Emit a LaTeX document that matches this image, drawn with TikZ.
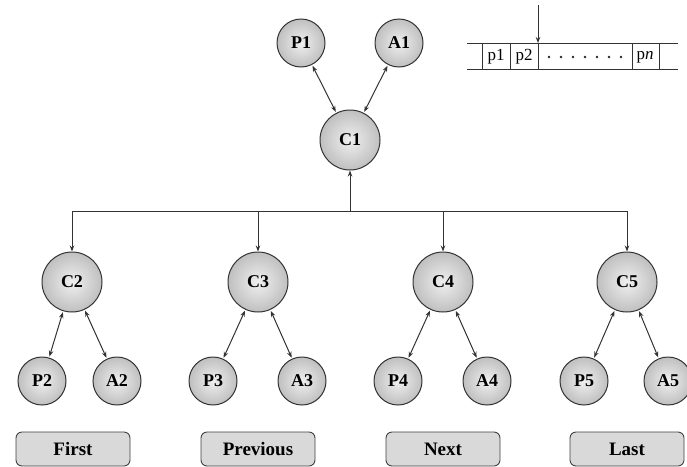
\documentclass[tikz,border=0pt]{standalone}
\usepackage{fontspec}
\setmainfont{Liberation Serif}
\usetikzlibrary{arrows.meta,calc}
\begin{document}
\begin{tikzpicture}[x=1pt,y=-1pt,
  ball/.style={circle,draw=black!80,line width=1pt,inner sep=0pt,
    inner color=gray!12,outer color=gray!50,
    font=\fontsize{18}{20}\selectfont\bfseries},
  bigball/.style={ball,minimum size=60pt},
  smallball/.style={ball,minimum size=48pt},
  link/.style={draw=black!80,line width=1pt,{Stealth[length=6pt,width=4.5pt]}-{Stealth[length=6pt,width=4.5pt]},shorten <=1pt,shorten >=1pt},
  down/.style={draw=black!80,line width=1pt,-{Stealth[length=6pt,width=4.5pt]}},
  button/.style={draw=black!75,line width=0.9pt,rounded corners=6pt,fill=gray!30,
    minimum width=114pt,minimum height=34pt,inner sep=0pt,
    font=\fontsize{19}{21}\selectfont\bfseries},
  cell/.style={inner sep=0pt,font=\fontsize{17}{19}\selectfont},
  dot/.style={circle,fill=black!85,inner sep=0pt,minimum size=2.8pt}
]
\useasboundingbox (0,0) rectangle (687,466);

% top
\node[smallball] (P1) at (301,43) {P1};
\node[smallball] (A1) at (399,43) {A1};
\node[bigball] (C1) at (350,140) {C1};
\draw[link] (P1) -- (C1);
\draw[link] (A1) -- (C1);

% second level
\node[bigball] (C2) at (72,282) {C2};
\node[bigball] (C3) at (258,282) {C3};
\node[bigball] (C4) at (443,282) {C4};
\node[bigball] (C5) at (627,282) {C5};

\coordinate (J) at (350,211);
\coordinate (J2) at (72,211);
\coordinate (J3) at (258,211);
\coordinate (J4) at (443,211);
\coordinate (J5) at (627,211);
\draw[draw=black!80,line width=1pt] (J2) -- (J5);
\draw[down] (J) -- (C1);
\draw[down] (J2) -- (C2);
\draw[down] (J3) -- (C3);
\draw[down] (J4) -- (C4);
\draw[down] (J5) -- (C5);

% leaves
\node[smallball] (P2) at (42,381) {P2};
\node[smallball] (A2) at (117,381) {A2};
\node[smallball] (P3) at (213,381) {P3};
\node[smallball] (A3) at (302,381) {A3};
\node[smallball] (P4) at (398,381) {P4};
\node[smallball] (A4) at (487,381) {A4};
\node[smallball] (P5) at (584,381) {P5};
\node[smallball] (A5) at (668,381) {A5};
\draw[link] (C2) -- (P2);
\draw[link] (C2) -- (A2);
\draw[link] (C3) -- (P3);
\draw[link] (C3) -- (A3);
\draw[link] (C4) -- (P4);
\draw[link] (C4) -- (A4);
\draw[link] (C5) -- (P5);
\draw[link] (C5) -- (A5);

% buttons
\node[button] (first) at (73,449) {First};
\node[button] (prev) at (258,449) {Previous};
\node[button] (next) at (443,449) {Next};
\node[button] (last) at (627,449) {Last};

% array
\draw[black!80,line width=1pt] (467,43) -- (678,43);
\draw[black!80,line width=1pt] (467,69) -- (678,69);
\foreach \x in {482,510,538,632,659}
  \draw[black!80,line width=1pt] (\x,43) -- (\x,69);
\node[cell] (c1) at (496,57) {p1};
\node[cell] (c2) at (524,57) {p2};
\foreach \i in {0,...,6}
  \node[dot] (d\i) at (549+12*\i,57) {};
\node[cell] (cn) at (645,57) {p\textit{n}};
\coordinate (ptr) at (538,5);
\coordinate (ptrend) at (538,43);
\draw[down] (ptr) -- (ptrend);
\end{tikzpicture}
\end{document}
